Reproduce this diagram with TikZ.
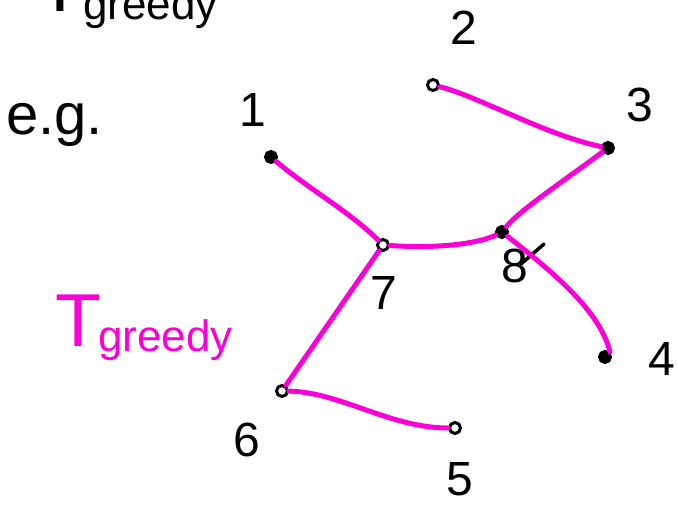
\documentclass[tikz,border=0pt]{standalone}
\usepackage{fontspec}
\setmainfont{Liberation Sans}
\definecolor{pen}{RGB}{250,0,215}
\begin{document}
\begin{tikzpicture}[x=1pt,y=-1pt,
  edge/.style={draw=pen,line width=5pt,line cap=round,line join=round},
  dotf/.style={circle,draw=black,fill=black,line width=3pt,minimum size=11pt,inner sep=0pt},
  doto/.style={dotf,fill=white},
  lab/.style={font=\fontsize{48}{58}\selectfont,inner sep=0pt,text=black},
  bigT/.style={font=\fontsize{75}{80}\selectfont,inner sep=0pt},
  sub/.style={font=\fontsize{44}{50}\selectfont,inner sep=0pt},
]
\useasboundingbox (0,0) rectangle (678,505);
\clip (0,0) rectangle (678,505);

% cut-off heading at the top
\node[bigT,anchor=base,text=black] (ht) at (60,12) {T};
\node[sub,anchor=base west,text=black] (hg) at (83,20) {greedy};

% e.g.
\node[font=\fontsize{58}{62}\selectfont,inner sep=0pt,anchor=base west] (eg) at (6,135) {e.g.};

% pink T_greedy
\node[bigT,anchor=base,text=pen] (pt) at (78,347) {T};
\node[sub,anchor=base west,text=pen] (pg) at (98,352) {greedy};

% vertices
\node[dotf] (n1) at (271,157) {};
\node[doto] (n2) at (433,85) {};
\node[dotf] (n3) at (608,148) {};
\node[doto] (n7) at (383,245) {};
\node[dotf] (n8) at (502,232) {};
\node[dotf] (n4) at (605,357) {};
\node[doto] (n6) at (282,391) {};
\node[doto] (n5) at (455,428) {};

% vertex labels
\node[lab] (l1) at (253,110) {1};
\node[lab] (l2) at (464,28) {2};
\node[lab] (l3) at (640,105) {3};
\node[lab] (l7) at (384,293) {7};
\node[lab] (l8) at (515,266) {8};
\node[lab] (l4) at (662,359) {4};
\node[lab] (l6) at (247,440) {6};
\node[lab] (l5) at (460,479) {5};
\draw[black,line width=3.5pt,line cap=round] (521,264) -- (544,244);

% tree edges
\draw[edge] (n1) .. controls (310,190) and (350,212) .. (n7);
\draw[edge] (n7) .. controls (440,249) and (480,243) .. (n8);
\draw[edge] (n8) .. controls (520,210) and (565,180) .. (n3);
\draw[edge] (n2) .. controls (480,97) and (545,135) .. (n3);
\draw[edge] (n8) .. controls (550,270) and (600,310) .. (n4.north east);
\draw[edge] (n7) -- (n6);
\draw[edge] (n6) .. controls (340,392) and (390,428) .. (n5);
\end{tikzpicture}
\end{document}
